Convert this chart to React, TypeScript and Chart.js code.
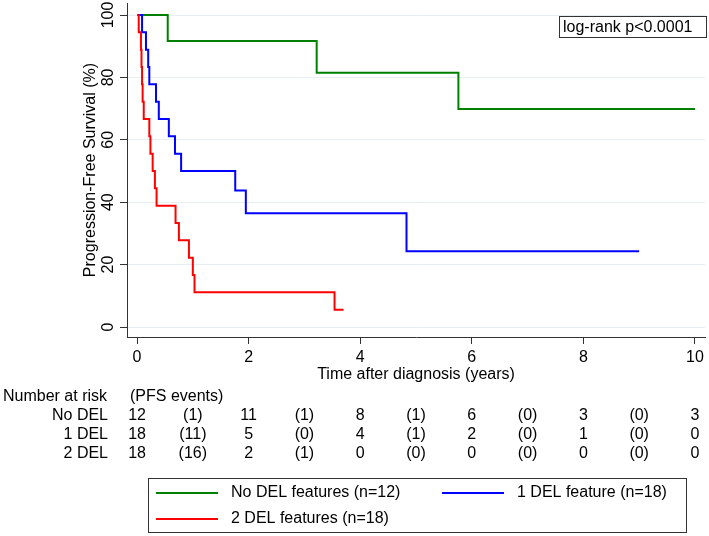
import React, { useEffect, useRef } from "react";
import { Chart, registerables } from "chart.js";

Chart.register(...registerables);

// ---- Kaplan-Meier step data (time in years, survival in %) ----
const noDelTimes = [0, 0.55, 3.22, 5.76, 10.0];
const noDelSurv = [100, 91.67, 81.48, 69.84, 69.84];

const oneDelTimes = [0, 0.09, 0.16, 0.2, 0.22, 0.34, 0.39, 0.57, 0.68, 0.79, 1.76, 1.95, 4.83, 9.0];
const oneDelSurv = [100, 94.44, 88.89, 83.33, 77.78, 72.22, 66.67, 61.11, 55.56, 50.0, 43.75, 36.46, 24.31, 24.31];

const twoDelTimes = [0, 0.03, 0.07, 0.08, 0.09, 0.1, 0.12, 0.22, 0.24, 0.28, 0.32, 0.35, 0.69, 0.75, 0.93, 1.0, 1.03, 3.54, 3.7];
const twoDelSurv = [100, 94.44, 88.89, 83.33, 77.78, 72.22, 66.67, 61.11, 55.56, 50.0, 44.44, 38.89, 33.33, 27.78, 22.22, 16.67, 11.11, 5.56, 5.56];

// ---- axes ----
const xTicks = [0, 2, 4, 6, 8, 10];
const yTicks = [0, 20, 40, 60, 80, 100];

// ---- risk table ----
const riskTimes = [0, 2, 4, 6, 8, 10];
const eventTimes = [1, 3, 5, 7, 9];
const riskRowLabels = ["No DEL", "1 DEL", "2 DEL"];
const noDelAtRisk = [12, 11, 8, 6, 3, 3];
const noDelEvents = [1, 1, 1, 0, 0];
const oneDelAtRisk = [18, 5, 4, 2, 1, 0];
const oneDelEvents = [11, 0, 1, 0, 0];
const twoDelAtRisk = [18, 2, 0, 0, 0, 0];
const twoDelEvents = [16, 1, 0, 0, 0];

const seriesLabels = ["No DEL features (n=12)", "1 DEL feature (n=18)", "2 DEL features (n=18)"];
const seriesColors = ["#008000", "#0000ff", "#ff0000"];
const pValueText = "log-rank p<0.0001";

const FONT = "'Liberation Sans', Arial, sans-serif";
const TEXT = "#000000";
const AXIS = "#333333";

const toPts = (t: number[], s: number[]) => t.map((x, i) => ({ x, y: s[i] }));

const annotations = {
  id: "kmAnnotations",
  afterDraw(chart: any) {
    const ctx = chart.ctx as CanvasRenderingContext2D;
    const xs = chart.scales.x;
    ctx.save();
    ctx.font = `16px ${FONT}`;
    ctx.fillStyle = TEXT;
    ctx.textBaseline = "middle";

    // risk table
    ctx.textAlign = "left";
    ctx.fillText("Number at risk", 3, 397);
    ctx.fillText("(PFS events)", 130, 397);
    const rows = [
      { risk: noDelAtRisk, ev: noDelEvents },
      { risk: oneDelAtRisk, ev: oneDelEvents },
      { risk: twoDelAtRisk, ev: twoDelEvents },
    ];
    rows.forEach((r, i) => {
      const y = 416 + i * 19;
      ctx.textAlign = "right";
      ctx.fillText(riskRowLabels[i], 108, y);
      ctx.textAlign = "center";
      r.risk.forEach((v, j) => ctx.fillText(String(v), xs.getPixelForValue(riskTimes[j]), y));
      r.ev.forEach((v, j) => ctx.fillText(`(${v})`, xs.getPixelForValue(eventTimes[j]), y));
    });

    // legend box
    ctx.strokeStyle = AXIS;
    ctx.lineWidth = 1;
    ctx.strokeRect(148.5, 478.5, 538, 54);
    const items = [
      { x: 156, y: 493 },
      { x: 442, y: 493 },
      { x: 156, y: 519 },
    ];
    items.forEach((it, i) => {
      ctx.strokeStyle = seriesColors[i];
      ctx.lineWidth = 2;
      ctx.beginPath();
      ctx.moveTo(it.x, it.y);
      ctx.lineTo(it.x + 62, it.y);
      ctx.stroke();
      ctx.textAlign = "left";
      ctx.fillStyle = TEXT;
      ctx.fillText(seriesLabels[i], it.x + 75, it.y);
    });

    // p-value box
    ctx.fillStyle = "#ffffff";
    ctx.fillRect(559.5, 16.5, 147, 21);
    ctx.strokeStyle = AXIS;
    ctx.lineWidth = 1;
    ctx.strokeRect(559.5, 16.5, 147, 21);
    ctx.fillStyle = TEXT;
    ctx.textAlign = "left";
    ctx.fillText(pValueText, 563, 27.5);
    ctx.restore();
  },
};

export default function App() {
  const ref = useRef<HTMLCanvasElement | null>(null);
  useEffect(() => {
    if (!ref.current) return;
    const font = { family: FONT, size: 16 };
    const chart = new Chart(ref.current, {
      type: "line",
      data: {
        datasets: [
          { label: seriesLabels[0], data: toPts(noDelTimes, noDelSurv), borderColor: seriesColors[0], order: 3 },
          { label: seriesLabels[1], data: toPts(oneDelTimes, oneDelSurv), borderColor: seriesColors[1], order: 2 },
          { label: seriesLabels[2], data: toPts(twoDelTimes, twoDelSurv), borderColor: seriesColors[2], order: 1 },
        ].map((d) => ({ ...d, stepped: "before" as const, borderWidth: 2, pointRadius: 0, fill: false, tension: 0 })),
      },
      options: {
        responsive: false,
        animation: false,
        devicePixelRatio: 1,
        layout: { padding: { left: 0, top: 3, right: 4, bottom: 0 } },
        plugins: { legend: { display: false }, tooltip: { enabled: false } },
        scales: {
          x: {
            type: "linear",
            min: -0.18,
            max: 10.18,
            afterBuildTicks: (s: any) => {
              s.ticks = xTicks.map((v) => ({ value: v }));
            },
            afterFit: (s: any) => {
              s.height = 199;
              s.paddingLeft = 0;
              s.paddingRight = 0;
            },
            grid: { drawOnChartArea: false, drawTicks: true, tickLength: 7, tickColor: AXIS },
            border: { color: AXIS, width: 1 },
            ticks: { font, color: TEXT, padding: 4, maxRotation: 0, autoSkip: false },
            title: {
              display: true,
              text: "Time after diagnosis (years)",
              font,
              color: TEXT,
              padding: { top: 0, bottom: 152 },
            },
          },
          y: {
            type: "linear",
            min: -3.2,
            max: 103.85,
            afterBuildTicks: (s: any) => {
              s.ticks = yTicks.map((v) => ({ value: v }));
            },
            afterFit: (s: any) => {
              s.width = 127;
              s.paddingTop = 0;
              s.paddingBottom = 0;
            },
            grid: { color: "#e6eef1", lineWidth: 1, drawTicks: true, tickLength: 7, tickColor: AXIS },
            border: { color: AXIS, width: 1 },
            ticks: { font, color: TEXT, minRotation: 90, maxRotation: 90, crossAlign: "center", padding: -2, autoSkip: false },
            title: {
              display: true,
              text: "Progression-Free Survival (%)",
              font,
              color: TEXT,
              padding: { top: 81, bottom: 0 },
            },
          },
        },
      } as any,
      plugins: [annotations],
    });
    return () => chart.destroy();
  }, []);
  return (
    <div style={{ position: "absolute", left: 0, top: 0, width: 709, height: 536, background: "#fff" }}>
      <canvas ref={ref} width={709} height={536} style={{ display: "block" }} />
    </div>
  );
}
